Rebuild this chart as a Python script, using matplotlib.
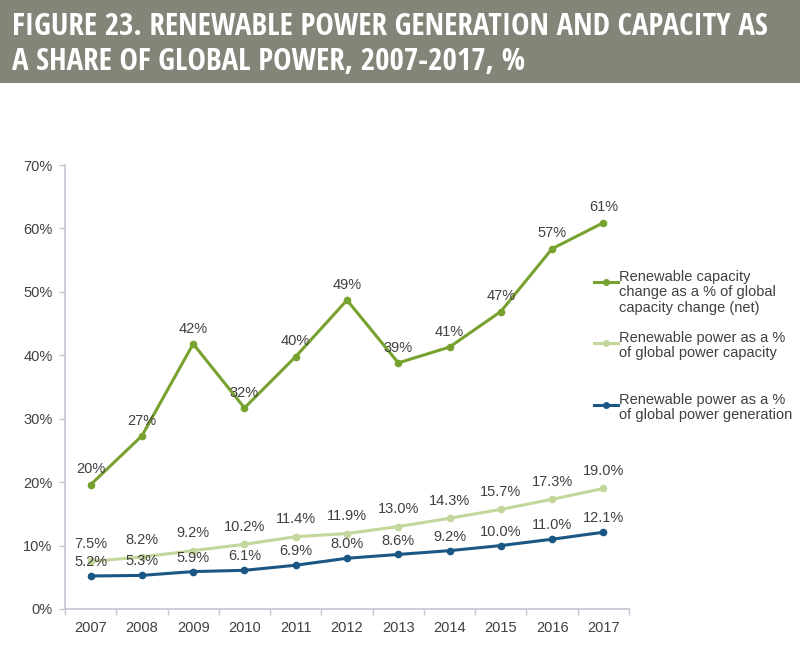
import matplotlib
matplotlib.use("Agg")
import matplotlib.pyplot as plt
from matplotlib.patches import Rectangle
from matplotlib.lines import Line2D

years = ["2007", "2008", "2009", "2010", "2011", "2012", "2013", "2014", "2015", "2016", "2017"]
cap_change = [19.6, 27.3, 41.8, 31.7, 39.8, 48.7, 38.8, 41.3, 46.9, 56.8, 60.9]
cap_share = [7.5, 8.2, 9.2, 10.2, 11.4, 11.9, 13.0, 14.3, 15.7, 17.3, 19.0]
gen_share = [5.2, 5.3, 5.9, 6.1, 6.9, 8.0, 8.6, 9.2, 10.0, 11.0, 12.1]
yticks = [0, 10, 20, 30, 40, 50, 60, 70]
series_names = [
    "Renewable capacity\nchange as a % of global\ncapacity change (net)",
    "Renewable power as a %\nof global power capacity",
    "Renewable power as a %\nof global power generation",
]
title_lines = ["FIGURE 23. RENEWABLE POWER GENERATION AND CAPACITY AS",
               "A SHARE OF GLOBAL POWER, 2007-2017, %"]

C_DARK = "#78a22f"
C_LIGHT = "#c3d69b"
C_BLUE = "#1b5785"
TXT = "#404040"
AX = "#c2c6d2"
FS = 10.5

plt.rcParams['font.family'] = ['Liberation Sans', 'DejaVu Sans']

W, H = 800, 655
fig = plt.figure(figsize=(W / 100, H / 100), dpi=100)

# header band
fig.patches.append(Rectangle((0, 1 - 83 / H), 1, 83 / H, transform=fig.transFigure,
                             facecolor="#838579", edgecolor="none", zorder=0))
for line, base in zip(title_lines, [35, 70]):
    fig.text(12 / W, 1 - base / H, line, color="white", fontsize=22.3,
             fontweight="bold",
             family=['Open Sans Condensed', 'Liberation Sans'],
             va="baseline", ha="left")

ax = fig.add_axes([65 / W, 46 / H, (629 - 65) / W, (609 - 165) / H])
x = list(range(len(years)))

ax.plot(x, cap_change, color=C_DARK, lw=2.2, marker="o", ms=4.5, zorder=3)
ax.plot(x, cap_share, color=C_LIGHT, lw=2.2, marker="o", ms=4.5, zorder=3)
ax.plot(x, gen_share, color=C_BLUE, lw=2.2, marker="o", ms=4.5, zorder=3)

for vals, off, fmt in [(cap_change, 11, "{:.0f}%"), (cap_share, 12.5, "{:.1f}%"),
                       (gen_share, 10, "{:.1f}%")]:
    for xi, v in zip(x, vals):
        ax.annotate(fmt.format(v), (xi, v), xytext=(0, off), textcoords="offset points",
                    ha="center", va="center", fontsize=FS, color=TXT, zorder=4)

ax.set_xlim(-0.5, len(years) - 0.5)
ax.set_ylim(0, 70)
ax.set_yticks(yticks)
ax.set_yticklabels([f"{t}%" for t in yticks])
ax.set_xticks(x)
ax.set_xticklabels(years)
ax.set_xticks([i - 0.5 for i in range(len(years) + 1)], minor=True)
ax.tick_params(axis="x", which="major", length=0, pad=9, labelsize=FS, labelcolor=TXT)
ax.tick_params(axis="x", which="minor", length=4, color=AX, width=1)
ax.tick_params(axis="y", which="major", length=4, color=AX, width=1, pad=5,
               labelsize=FS, labelcolor=TXT)
for s in ["top", "right"]:
    ax.spines[s].set_visible(False)
for s in ["left", "bottom"]:
    ax.spines[s].set_color(AX)
    ax.spines[s].set_linewidth(1.2)
ax.set_facecolor("none")

# legend (custom placement)
leg_y = [282, 343, 405]
for name, col, yy in zip(series_names, [C_DARK, C_LIGHT, C_BLUE], leg_y):
    fy = 1 - yy / H
    fig.lines.append(Line2D([594 / W, 618 / W], [fy, fy], transform=fig.transFigure,
                            color=col, lw=2.2))
    fig.lines.append(Line2D([606 / W], [fy], transform=fig.transFigure,
                            color=col, marker="o", ms=4))
    fig.text(619 / W, fy + 12 / H, name, fontsize=FS, color=TXT, va="top", ha="left",
             linespacing=1.12)

fig.savefig("out.png", dpi=100, facecolor="white")
